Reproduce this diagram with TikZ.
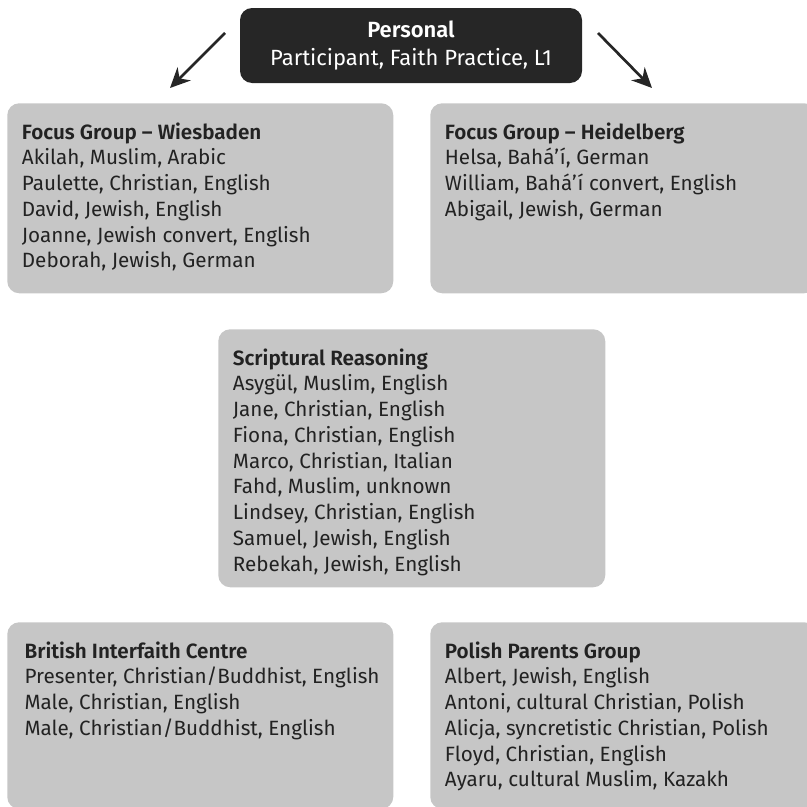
\documentclass[tikz,border=0pt]{standalone}
\usepackage{fontspec}
\setmainfont{Fira Sans}[BoldFont={Fira Sans SemiBold}]
\usetikzlibrary{arrows.meta,positioning}
\definecolor{boxgrey}{HTML}{C6C6C6}
\definecolor{boxblack}{HTML}{262626}
\definecolor{inkgrey}{HTML}{222222}

\begin{document}
\begin{tikzpicture}[x=0.75pt,y=-0.75pt,>={Stealth[length=15pt,width=14pt]},
  groupbox/.style={fill=boxgrey,rounded corners=9pt,anchor=north west,inner sep=0pt},
  grouptext/.style={align=left,inner sep=0pt,text=inkgrey,
    font=\fontsize{15.5}{19.3}\selectfont},
  headbox/.style={fill=boxblack,rounded corners=9pt,text=white,align=center,
    minimum width=256.5pt,minimum height=56.25pt,inner sep=0pt,
    font=\fontsize{16.5}{20.5}\selectfont},
  link/.style={->,line width=2pt,draw=boxblack}]
\useasboundingbox (0,0) rectangle (807,807);

\node[headbox] (personal) at (411,45.5) {\textbf{Personal}\\Participant, Faith Practice, L1};

\coordinate (lstart) at (225,33);
\coordinate (lend) at (170,88);
\coordinate (rstart) at (598,33);
\coordinate (rend) at (652,88);
\draw[link] (lstart) -- (lend);
\draw[link] (rstart) -- (rend);

% focus groups
\node[groupbox,minimum width=289.5pt,minimum height=142.5pt] (wies) at (7,103) {};
\node[grouptext,below right=14.5pt and 11pt of wies.north west] (wiestext)
  {\textbf{Focus Group -- Wiesbaden}\\Akilah, Muslim, Arabic\\Paulette, Christian, English\\
   David, Jewish, English\\Joanne, Jewish convert, English\\Deborah, Jewish, German};

\node[groupbox,minimum width=289.5pt,minimum height=142.5pt] (heid) at (430,103) {};
\node[grouptext,below right=14.5pt and 11pt of heid.north west] (heidtext)
  {\textbf{Focus Group -- Heidelberg}\\Helsa, Bahá’í, German\\William, Bahá’í convert, English\\
   Abigail, Jewish, German};

% scriptural reasoning
\node[groupbox,minimum width=290.25pt,minimum height=193.5pt] (scrip) at (218,329) {};
\node[grouptext,below right=14.5pt and 11pt of scrip.north west] (scriptext)
  {\textbf{Scriptural Reasoning}\\Asygül, Muslim, English\\Jane, Christian, English\\
   Fiona, Christian, English\\Marco, Christian, Italian\\Fahd, Muslim, unknown\\
   Lindsey, Christian, English\\Samuel, Jewish, English\\Rebekah, Jewish, English};

% bottom row
\node[groupbox,minimum width=289.5pt,minimum height=140pt] (brit) at (7,622) {};
\node[grouptext,below right=14.5pt and 13pt of brit.north west] (brittext)
  {\textbf{British Interfaith Centre}\\Presenter, Christian/Buddhist, English\\
   Male, Christian, English\\Male, Christian/Buddhist, English};

\node[groupbox,minimum width=289.5pt,minimum height=140pt] (polish) at (430,622) {};
\node[grouptext,below right=14.5pt and 11pt of polish.north west] (polishtext)
  {\textbf{Polish Parents Group}\\Albert, Jewish, English\\Antoni, cultural Christian, Polish\\
   Alicja, syncretistic Christian, Polish\\Floyd, Christian, English\\
   Ayaru, cultural Muslim, Kazakh};
\end{tikzpicture}
\end{document}
